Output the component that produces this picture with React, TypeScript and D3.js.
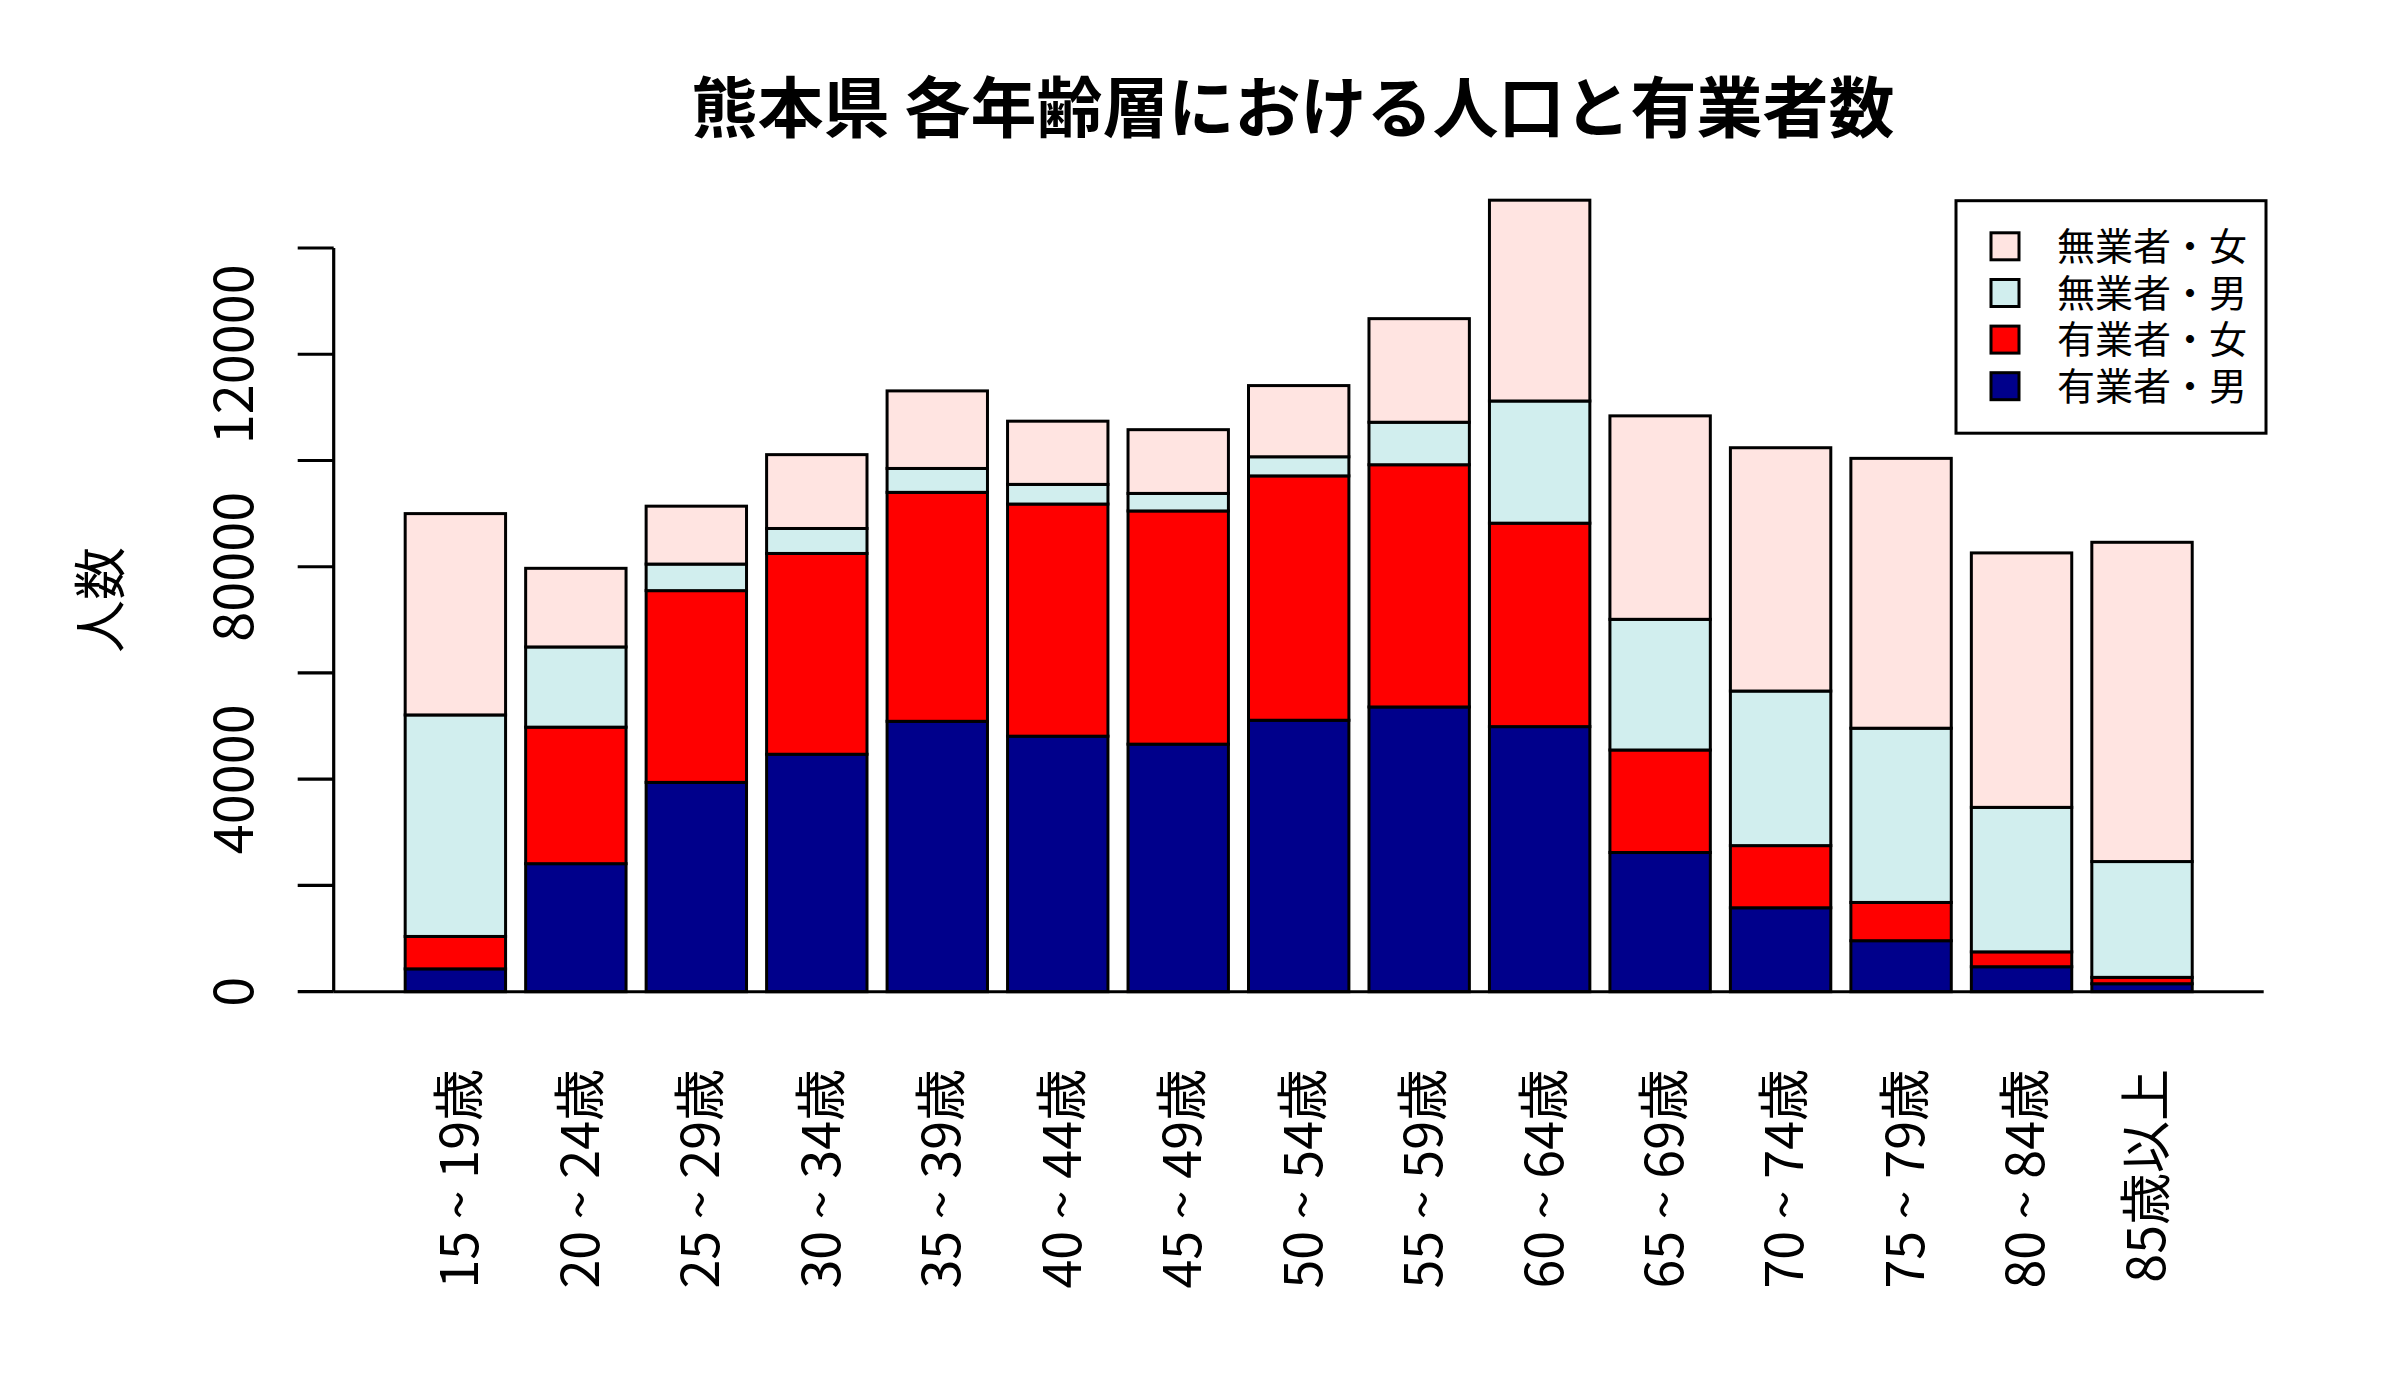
import React from "react";
import * as d3 from "d3";

const title = "熊本県 各年齢層における人口と有業者数";
const yLabel = "人数";

const categories = [
  "15 ~ 19歳", "20 ~ 24歳", "25 ~ 29歳", "30 ~ 34歳", "35 ~ 39歳",
  "40 ~ 44歳", "45 ~ 49歳", "50 ~ 54歳", "55 ~ 59歳", "60 ~ 64歳",
  "65 ~ 69歳", "70 ~ 74歳", "75 ~ 79歳", "80 ~ 84歳", "85歳以上",
];

const employedMale = [4300, 24100, 39400, 44700, 50900, 48100, 46600, 51100, 53600, 49900, 26200, 15800, 9600, 4700, 1500];
const employedFemale = [6100, 25700, 36100, 37800, 43100, 43700, 43900, 46000, 45600, 38300, 19300, 11700, 7200, 2800, 1200];
const unemployedMale = [41700, 15100, 5000, 4700, 4500, 3700, 3300, 3600, 8000, 23000, 24600, 29100, 32800, 27200, 21800];
const unemployedFemale = [37900, 14800, 10900, 13900, 14600, 11900, 12000, 13400, 19500, 37800, 38300, 45800, 50800, 47900, 60100];

const seriesKeys = ["有業者・男", "有業者・女", "無業者・男", "無業者・女"];
const seriesColors = ["#00008B", "#FF0000", "#D1EEEE", "#FFE4E1"];

const yTicks = [0, 20000, 40000, 60000, 80000, 100000, 120000, 140000];
const yTickLabels = ["0", "40000", "80000", "120000"];
const yLabeledTicks = [0, 40000, 80000, 120000];

const W = 2400;
const H = 1400;
const plotLeft = 333.7;
const plotRight = 2263.7;

const cjkFont = "'Noto Sans CJK JP', sans-serif";

export default function App() {
  const n = categories.length;
  const space = 0.2;
  const barW = 1;
  const xMin = space;
  const xMax = n * (space + barW);
  const ext = (xMax - xMin) * 0.04;
  const x = d3.scaleLinear().domain([xMin - ext, xMax + ext]).range([plotLeft, plotRight]);
  const y = d3.scaleLinear().domain([0, 140000]).range([991.7, 248]);

  const rows = categories.map((c, i) => ({
    cat: c,
    "有業者・男": employedMale[i],
    "有業者・女": employedFemale[i],
    "無業者・男": unemployedMale[i],
    "無業者・女": unemployedFemale[i],
  }));
  const stacked = d3.stack<any>().keys(seriesKeys)(rows);

  const barLeft = (i: number) => space + i * (space + barW);

  const legendItems = [3, 2, 1, 0];
  const legendRowY = [246.3, 293, 339.6, 386.2];

  return (
    <svg
      width={W}
      height={H}
      style={{ position: "absolute", left: 0, top: 0, background: "#fff" }}
      xmlns="http://www.w3.org/2000/svg"
    >
      <rect x={0} y={0} width={W} height={H} fill="#fff" />
      <text
        x={1293}
        y={132}
        textAnchor="middle"
        fontFamily={cjkFont}
        fontWeight={700}
        fontSize={66}
        fill="#000"
      >
        {title}
      </text>

      {stacked.map((s, si) => (
        <g key={seriesKeys[si]}>
          {s.map((d, i) => (
            <rect
              key={i}
              x={x(barLeft(i))}
              y={y(d[1])}
              width={x(barLeft(i) + barW) - x(barLeft(i))}
              height={y(d[0]) - y(d[1])}
              fill={seriesColors[si]}
              stroke="#000"
              strokeWidth={3}
            />
          ))}
        </g>
      ))}

      <line x1={plotLeft} x2={plotRight} y1={y(0)} y2={y(0)} stroke="#000" strokeWidth={3} />

      <line x1={plotLeft} x2={plotLeft} y1={y(0)} y2={y(140000)} stroke="#000" strokeWidth={3.2} />
      {yTicks.map((t) => (
        <line key={t} x1={plotLeft - 36} x2={plotLeft} y1={y(t)} y2={y(t)} stroke="#000" strokeWidth={3.2} />
      ))}
      {yLabeledTicks.map((t, i) => (
        <text
          key={t}
          transform={`translate(253,${y(t)}) rotate(-90)`}
          textAnchor="middle"
          fontFamily={cjkFont}
          fontSize={54}
          fill="#000"
        >
          {yTickLabels[i]}
        </text>
      ))}

      <text
        transform={`translate(120,600) rotate(-90)`}
        textAnchor="middle"
        fontFamily={cjkFont}
        fontSize={53}
        fill="#000"
      >
        {yLabel}
      </text>

      {categories.map((c, i) => (
        <text
          key={c}
          transform={`translate(${x(barLeft(i) + barW / 2)},1069) rotate(-90)`}
          textAnchor="end"
          dy="0.44em"
          fontFamily={cjkFont}
          fontSize={52}
          fill="#000"
        >
          {c}
        </text>
      ))}

      <rect x={1956} y={200.7} width={310} height={232.5} fill="#fff" stroke="#000" strokeWidth={3} />
      {legendItems.map((si, r) => (
        <g key={si}>
          <rect
            x={1991}
            y={legendRowY[r] - 13.5}
            width={28}
            height={27}
            fill={seriesColors[si]}
            stroke="#000"
            strokeWidth={3}
          />
          <text
            x={2057}
            y={legendRowY[r]}
            dy="0.36em"
            fontFamily={cjkFont}
            fontSize={38}
            fill="#000"
          >
            {seriesKeys[si]}
          </text>
        </g>
      ))}
    </svg>
  );
}
